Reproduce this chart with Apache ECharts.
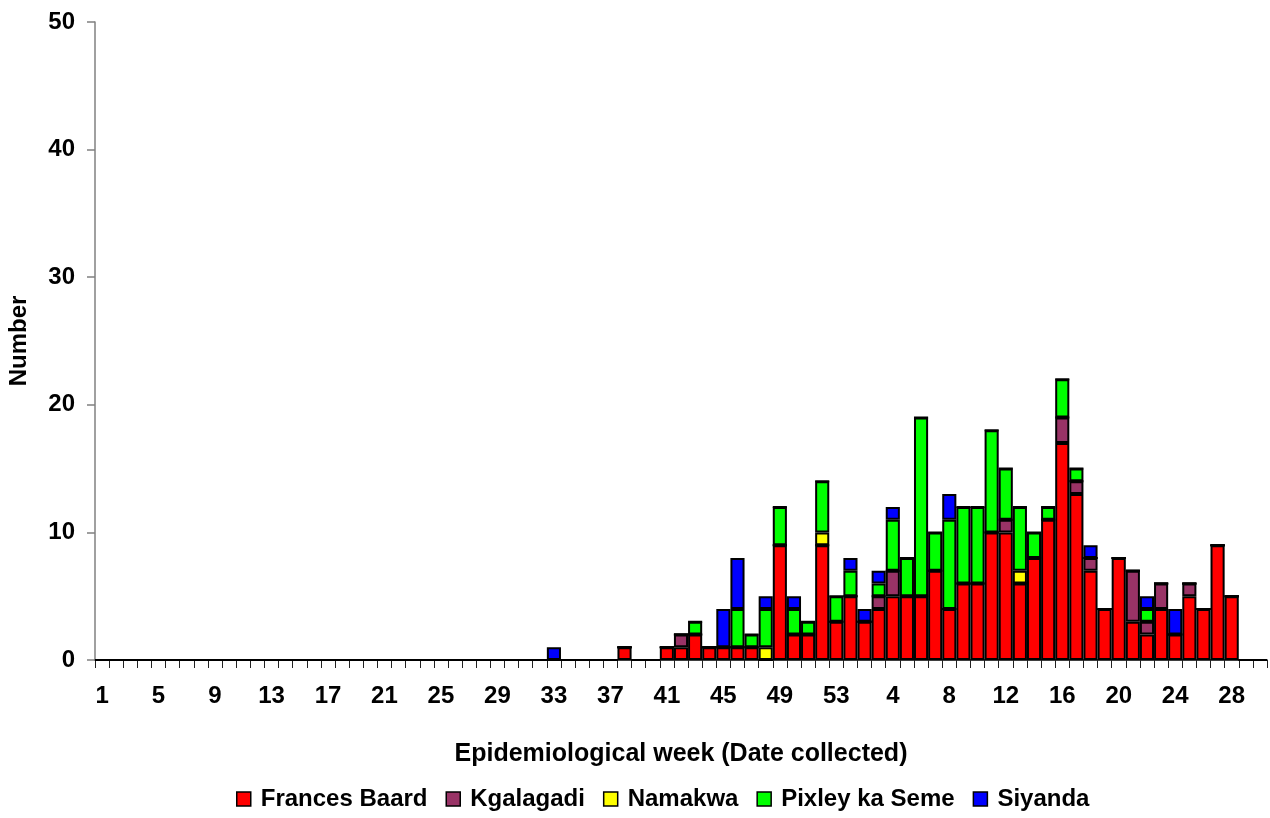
<!DOCTYPE html>
<html>
<head>
<meta charset="utf-8">
<script src="https://cdn.jsdelivr.net/npm/echarts@6/dist/echarts.min.js"></script>
<style>
  html, body { margin: 0; padding: 0; background: #fff; }
  #chart { width: 1270px; height: 818px; }
</style>
</head>
<body>
<div id="chart"></div>
<script>
  // epidemiological weeks: first year 1-53, second year 1-30
  var yearOneWeeks = 53
  var yearTwoWeeks = 30
  var weeks = []
  for (var w = 1; w <= yearOneWeeks; w++) weeks.push(String(w))
  for (var w2 = 1; w2 <= yearTwoWeeks; w2++) weeks.push(String(w2))

  var districts = ['Frances Baard', 'Kgalagadi', 'Namakwa', 'Pixley ka Seme', 'Siyanda']
  var colors = ['#ff0000', '#993366', '#ffff00', '#00ff00', '#0000ff']

  // counts per week, first year (53) then second year (30)
  var francesBaard = [
    0,0,0,0,0,0,0,0,0,0, 0,0,0,0,0,0,0,0,0,0, 0,0,0,0,0,0,0,0,0,0,
    0,0,0,0,0,0,0,1,0,0, 1,1,2,1,1,1,1,0,9,2, 2,9,3,
    5,3,4,5,5,5,7,4,6,6, 10,10,6,8,11,17,13,7,4,8, 3,2,4,2,5,4,9,5,0,0
  ]
  var kgalagadi = [
    0,0,0,0,0,0,0,0,0,0, 0,0,0,0,0,0,0,0,0,0, 0,0,0,0,0,0,0,0,0,0,
    0,0,0,0,0,0,0,0,0,0, 0,1,0,0,0,0,0,0,0,0, 0,0,0,
    0,0,1,2,0,0,0,0,0,0, 0,1,0,0,0,2,1,1,0,0, 4,1,2,0,1,0,0,0,0,0
  ]
  var namakwa = [
    0,0,0,0,0,0,0,0,0,0, 0,0,0,0,0,0,0,0,0,0, 0,0,0,0,0,0,0,0,0,0,
    0,0,0,0,0,0,0,0,0,0, 0,0,0,0,0,0,0,1,0,0, 0,1,0,
    0,0,0,0,0,0,0,0,0,0, 0,0,1,0,0,0,0,0,0,0, 0,0,0,0,0,0,0,0,0,0
  ]
  var pixleyKaSeme = [
    0,0,0,0,0,0,0,0,0,0, 0,0,0,0,0,0,0,0,0,0, 0,0,0,0,0,0,0,0,0,0,
    0,0,0,0,0,0,0,0,0,0, 0,0,1,0,0,3,1,3,3,2, 1,4,2,
    2,0,1,4,3,14,3,7,6,6, 8,4,5,2,1,3,1,0,0,0, 0,1,0,0,0,0,0,0,0,0
  ]
  var siyanda = [
    0,0,0,0,0,0,0,0,0,0, 0,0,0,0,0,0,0,0,0,0, 0,0,0,0,0,0,0,0,0,0,
    0,0,1,0,0,0,0,0,0,0, 0,0,0,0,3,4,0,1,0,1, 0,0,0,
    1,1,1,1,0,0,0,2,0,0, 0,0,0,0,0,0,0,1,0,0, 0,1,0,2,0,0,0,0,0,0
  ]
  var seriesData = [francesBaard, kgalagadi, namakwa, pixleyKaSeme, siyanda]

  var font = 'Liberation Sans, Arial, sans-serif'

  var chart = echarts.init(document.getElementById('chart'))
  chart.setOption({
    animation: false,
    color: colors,
    grid: { left: 95, right: 3, top: 22, bottom: 158, outerBoundsMode: 'none' },
    legend: {
      bottom: 2,
      left: 231,
      itemWidth: 14,
      itemHeight: 14,
      itemGap: 18,
      icon: 'rect',
      itemStyle: { borderColor: '#000', borderWidth: 1.5 },
      textStyle: { fontFamily: font, fontWeight: 'bold', fontSize: 24, color: '#000', padding: [0, 0, 0, 5] },
      data: districts
    },
    xAxis: {
      type: 'category',
      data: weeks,
      name: 'Epidemiological week (Date collected)',
      nameLocation: 'middle',
      nameGap: 82,
      nameTextStyle: { fontFamily: font, fontWeight: 'bold', fontSize: 25, color: '#000' },
      axisLine: { lineStyle: { color: '#000', width: 1.5 } },
      axisTick: { show: true, interval: 0, length: 8, lineStyle: { color: '#222', width: 1 } },
      axisLabel: {
        interval: 3,
        margin: 24,
        fontFamily: font,
        fontWeight: 'bold',
        fontSize: 24,
        color: '#000'
      }
    },
    yAxis: {
      type: 'value',
      min: 0,
      max: 50,
      interval: 10,
      name: 'Number',
      nameLocation: 'middle',
      nameGap: 64,
      nameTextStyle: { fontFamily: font, fontWeight: 'bold', fontSize: 24, color: '#000' },
      axisLine: { show: true, lineStyle: { color: '#808080', width: 1.5 } },
      axisTick: { show: true, length: 8, lineStyle: { color: '#808080', width: 1.5 } },
      splitLine: { show: false },
      axisLabel: { margin: 20, fontFamily: font, fontWeight: 'bold', fontSize: 24, color: '#000' }
    },
    series: districts.map(function (name, i) {
      return {
        name: name,
        type: 'bar',
        stack: 'cases',
        barCategoryGap: '0%',
        data: seriesData[i],
        itemStyle: { borderColor: '#000', borderWidth: 2 }
      }
    })
  })
</script>
</body>
</html>
